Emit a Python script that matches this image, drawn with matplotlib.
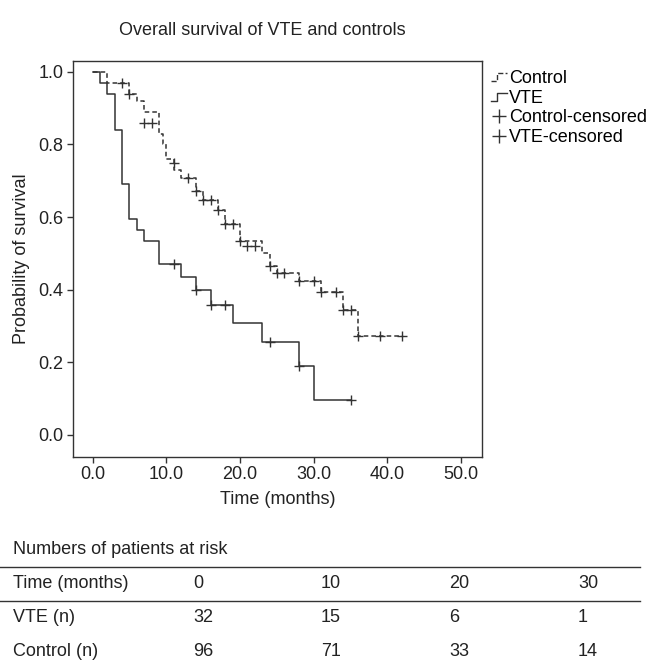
import numpy as np
import matplotlib.pyplot as plt
from matplotlib.lines import Line2D
from matplotlib.legend_handler import HandlerBase

plt.rcParams['font.family'] = ['Liberation Sans', 'DejaVu Sans']

# Kaplan-Meier steps (time of drop, survival after the drop)
vte_t = [0, 1, 2, 3, 4, 5, 6, 7, 9, 12, 14, 16, 19, 23, 28, 30, 35]
vte_s = [1.0, 0.97, 0.94, 0.84, 0.69, 0.595, 0.565, 0.535, 0.47, 0.435,
         0.40, 0.358, 0.307, 0.255, 0.19, 0.095, 0.095]
vte_cens_t = [11, 14, 16, 18, 24, 28, 35]
vte_cens_s = [0.47, 0.40, 0.358, 0.358, 0.255, 0.19, 0.095]

ctl_t = [0, 2, 5, 6, 7, 9, 9.5, 10, 11, 12, 14, 15, 17, 18, 20, 23, 24,
         25, 28, 31, 34, 36, 42]
ctl_s = [1.0, 0.97, 0.94, 0.92, 0.89, 0.83, 0.80, 0.76, 0.73, 0.707,
         0.671, 0.648, 0.62, 0.581, 0.533, 0.50, 0.464, 0.445, 0.423,
         0.394, 0.343, 0.273, 0.273]
ctl_cens_t = [4, 5, 7, 8, 11, 13, 14, 15, 16, 17, 18, 19, 20, 21, 22, 24,
              25, 26, 28, 30, 31, 33, 34, 35, 36, 39, 42]
ctl_cens_s = [0.97, 0.94, 0.86, 0.86, 0.75, 0.707, 0.671, 0.648, 0.648,
              0.62, 0.581, 0.581, 0.533, 0.519, 0.519, 0.464, 0.445,
              0.445, 0.423, 0.423, 0.394, 0.394, 0.343, 0.343, 0.273,
              0.273, 0.273]

risk_times = ['0', '10', '20', '30']
risk_vte = ['32', '15', '6', '1']
risk_ctl = ['96', '71', '33', '14']

col = '#333333'


class StepHandler(HandlerBase):
    # draws a little step line as legend key
    def create_artists(self, legend, orig_handle, xdescent, ydescent,
                       width, height, fontsize, trans):
        x0, x1 = -xdescent, -xdescent + width
        xm = x0 + width * 0.35
        y0, y1 = -ydescent + height * 0.15, -ydescent + height * 0.75
        ln = Line2D([x0, xm, xm, x1], [y0, y0, y1, y1],
                    color=orig_handle.get_color(),
                    linestyle=orig_handle.get_linestyle(), lw=1.0)
        ln.set_transform(trans)
        return [ln]


fig = plt.figure(figsize=(6.52, 6.62), dpi=100)
ax = fig.add_axes([0.1115, 0.31, 0.6275, 0.598])

ax.step(ctl_t, ctl_s, where='post', color=col, lw=1.1, ls=(0, (3, 2)))
ax.step(vte_t, vte_s, where='post', color=col, lw=1.1)
ax.plot(ctl_cens_t, ctl_cens_s, '+', color=col, ms=7, mew=1.0)
ax.plot(vte_cens_t, vte_cens_s, '+', color=col, ms=7, mew=1.0)

ax.set_xlim(-2.7, 52.8)
ax.set_ylim(-0.06, 1.03)
ax.set_xticks([0, 10, 20, 30, 40, 50])
ax.set_xticklabels(['0.0', '10.0', '20.0', '30.0', '40.0', '50.0'])
ax.set_yticks([0, 0.2, 0.4, 0.6, 0.8, 1.0])
ax.set_yticklabels(['0.0', '0.2', '0.4', '0.6', '0.8', '1.0'])
ax.tick_params(direction='out', length=4.5, width=1, colors=col,
               labelsize=13, labelcolor='#222222', pad=2)
for sp in ax.spines.values():
    sp.set_color(col)
    sp.set_linewidth(1)

ax.set_xlabel('Time (months)', fontsize=13, color='#222222', labelpad=6)
ax.set_ylabel('Probability of survival', fontsize=13, color='#222222',
              labelpad=6)
ax.set_title('Overall survival of VTE and controls', fontsize=13,
             color='#222222', pad=19, x=0.463)

h_ctl = Line2D([], [], color=col, ls=(0, (2, 1)))
h_vte = Line2D([], [], color=col)
h_cc = Line2D([], [], color=col, ls='none', marker='+', ms=10, mew=1)
h_vc = Line2D([], [], color=col, ls='none', marker='+', ms=10, mew=1)
ax.legend([h_ctl, h_vte, h_cc, h_vc],
          ['Control', 'VTE', 'Control-censored', 'VTE-censored'],
          loc='upper left', bbox_to_anchor=(1.0, 1.0), frameon=False,
          fontsize=13, handlelength=0.9, handletextpad=0.1,
          labelspacing=0.15, borderaxespad=0.2, borderpad=0.3,
          handler_map={h_ctl: StepHandler(), h_vte: StepHandler()})

# numbers at risk table, drawn in figure coordinates
def fy(py):
    return 1 - py / 662.0

fig.text(13 / 652, fy(549), 'Numbers of patients at risk', fontsize=13,
         color='#222222', va='center')
for py in [567, 601]:
    fig.add_artist(Line2D([0, 640 / 652], [fy(py), fy(py)], color=col,
                          lw=1))
col_x = [193, 321, 449, 578]
rows = [('Time (months)', risk_times, 584),
        ('VTE (n)', risk_vte, 618),
        ('Control (n)', risk_ctl, 652)]
for name, vals, py in rows:
    fig.text(13 / 652, fy(py), name, fontsize=13, color='#222222',
             va='center')
    for cx, v in zip(col_x, vals):
        fig.text(cx / 652, fy(py), v, fontsize=13, color='#222222',
                 va='center')

fig.savefig('out.png', dpi=100)
